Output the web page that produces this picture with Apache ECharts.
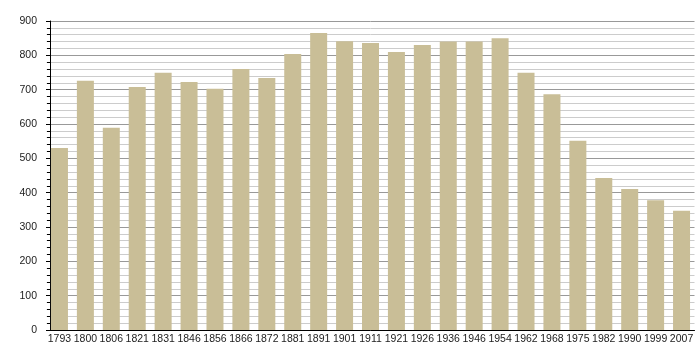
<!DOCTYPE html>
<html>
<head>
<meta charset="utf-8">
<script src="https://cdn.jsdelivr.net/npm/echarts@6/dist/echarts.min.js"></script>
<style>html,body{margin:0;padding:0;background:#fff;}#c{width:700px;height:360px;}</style>
</head>
<body>
<div id="c"></div>
<script>
const years = ['1793','1800','1806','1821','1831','1846','1856','1866','1872','1881','1891','1901','1911','1921','1926','1936','1946','1954','1962','1968','1975','1982','1990','1999','2007'];
const population = [530,726,589,708,749,722,703,760,734,804,865,841,836,810,830,840,840,850,749,687,551,443,411,378,347];
const yMin = 0, yMax = 900, yStep = 100;

const chart = echarts.init(document.getElementById('c'), null, {renderer:'canvas'});
chart.setOption({
  animation: false,
  backgroundColor: '#ffffff',
  grid: {left: 46.5, right: 5.5, top: 21, bottom: 30, containLabel: false},
  xAxis: {
    type: 'category',
    data: years,
    boundaryGap: true,
    axisLine: {show: true, lineStyle: {color: '#000', width: 1}},
    axisTick: {show: false},
    axisLabel: {color: '#222', fontSize: 10.5, fontFamily: 'Liberation Sans, Arial, sans-serif', margin: 4, interval: 0},
    splitLine: {show: false}
  },
  yAxis: {
    type: 'value',
    min: yMin, max: yMax, interval: yStep,
    offset: -3.5,
    axisLine: {show: true, lineStyle: {color: '#000', width: 1}},
    axisTick: {show: true, length: 4, inside: false, lineStyle: {color: '#000'}},
    minorTick: {show: true, splitNumber: 5, length: 3, lineStyle: {color: '#000'}},
    axisLabel: {color: '#222', fontSize: 10.5, fontFamily: 'Liberation Sans, Arial, sans-serif', margin: 13},
    splitLine: {show: true, lineStyle: {color: '#999', width: 1}},
    minorSplitLine: {show: true, lineStyle: {color: '#ccc', width: 1}}
  },
  series: [{
    type: 'bar',
    data: population,
    barWidth: 17,
    itemStyle: {color: '#c9be97'},
    z: 3
  }]
});
</script>
</body>
</html>
